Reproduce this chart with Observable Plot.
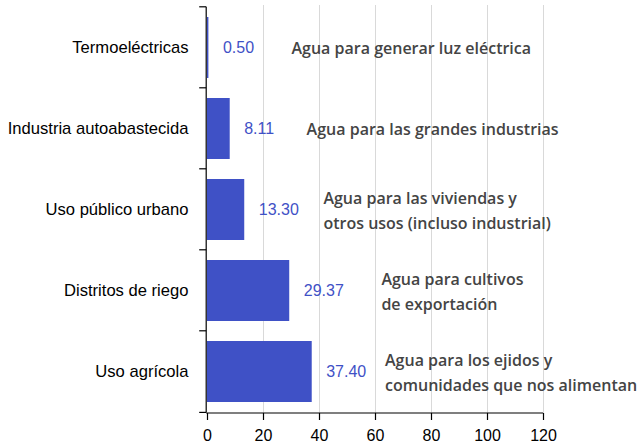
<!DOCTYPE html>
<html>
<head>
<meta charset="utf-8">
<script src="https://cdn.jsdelivr.net/npm/d3@7"></script>
<script src="https://cdn.jsdelivr.net/npm/@observablehq/plot@0.6"></script>
<style>
  html, body { margin: 0; padding: 0; background: #fff; }
  #chart svg { display: block; }
</style>
</head>
<body>
<div id="chart"></div>
<script>
const categories = ["Termoeléctricas", "Industria autoabastecida", "Uso público urbano", "Distritos de riego", "Uso agrícola"];
const values = [0.50, 8.11, 13.30, 29.37, 37.40];
const notes = [
  "Agua para generar luz eléctrica",
  "Agua para las grandes industrias",
  "Agua para las viviendas y\notros usos (incluso industrial)",
  "Agua para cultivos\nde exportación",
  "Agua para los ejidos y\ncomunidades que nos alimentan"
];
const noteX = [30, 35.4, 41.4, 62.1, 63.4];
const xTicks = [0, 20, 40, 60, 80, 100, 120];

const data = categories.map((c, i) => ({cat: c, value: values[i], note: notes[i], nx: noteX[i]}));

const blue = "#3f51c6";
const W = 642, H = 448;
const mT = 5, mB = 35, mL = 207, mR = 99;

// y axis line with ticks at band boundaries
function bandTicks(index, scales, vals, dims) {
  const g = d3.create("svg:g");
  const step = (dims.height - dims.marginTop - dims.marginBottom) / categories.length;
  const ys = categories.map(c => scales.y(c) - step * 0.125);
  ys.push(ys[ys.length - 1] + step);
  const x0 = scales.x(0) - 0.8;
  g.selectAll("line").data(ys).join("line")
    .attr("x1", x0 - 7).attr("x2", x0)
    .attr("y1", d => d).attr("y2", d => d)
    .attr("stroke", "#000").attr("stroke-width", 1.2);
  g.append("line")
    .attr("x1", x0).attr("x2", x0)
    .attr("y1", ys[0]).attr("y2", ys[ys.length - 1])
    .attr("stroke", "#000").attr("stroke-width", 1.2);
  return g.node();
}

// x axis baseline
function xBaseline(index, scales, vals, dims) {
  const g = d3.create("svg:g");
  const y = dims.height - dims.marginBottom;
  g.append("line").attr("x1", scales.x(xTicks[0]) - 0.8).attr("x2", scales.x(xTicks[xTicks.length - 1]))
    .attr("y1", y).attr("y2", y)
    .attr("stroke", "#000").attr("stroke-width", 1.2);
  return g.node();
}

const chart = Plot.plot({
  width: W,
  height: H,
  marginTop: mT,
  marginBottom: mB,
  marginLeft: mL,
  marginRight: mR,
  style: {fontFamily: "'Liberation Sans', Arial, sans-serif", fontSize: "16px", color: "#000", background: "#fff"},
  x: {domain: [0, 120]},
  y: {domain: categories, paddingInner: 0.25, paddingOuter: 0.125},
  marks: [
    Plot.gridX(xTicks.filter(d => d > 0), {stroke: "#d9d9d9", strokeOpacity: 1}),
    Plot.barX(data, {x: "value", y: "cat", fill: blue}),
    Plot.text(data, {x: "value", y: "cat", text: d => d.value.toFixed(2), dx: 14, textAnchor: "start", fill: blue, fontSize: 16}),
    Plot.text(data, {x: "nx", y: "cat", text: "note", textAnchor: "start", lineAnchor: "middle", lineHeight: 1.55, dy: -1.5,
      fill: "#444", fontSize: 16, fontWeight: 600, fontFamily: "'Open Sans', sans-serif"}),
    Plot.axisY({tickSize: 0, tickPadding: 19, label: null, fontSize: 16.6}),
    Plot.axisX({ticks: xTicks, tickSize: 7, tickPadding: 9, label: null, fontSize: 16, strokeWidth: 1.2}),
    xBaseline,
    bandTicks
  ]
});

document.getElementById("chart").appendChild(chart);
</script>
</body>
</html>
